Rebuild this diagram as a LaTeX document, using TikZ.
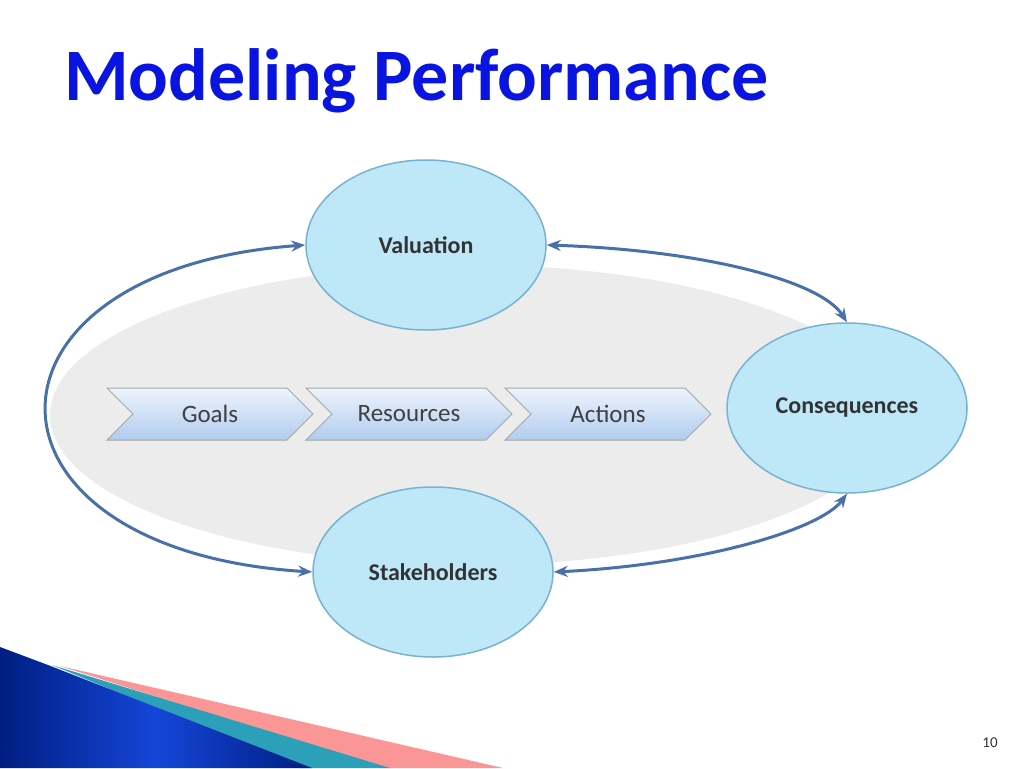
\documentclass[tikz,border=0pt]{standalone}
\usepackage{fontspec}
\setmainfont{Carlito}
\usetikzlibrary{arrows.meta, shapes.symbols, shapes.geometric}
\definecolor{titleblue}{RGB}{10,20,225}
\definecolor{ringfill}{RGB}{190,232,248}
\definecolor{ringdraw}{RGB}{120,178,208}
\definecolor{arcblue}{RGB}{74,112,170}
\definecolor{backgray}{RGB}{236,236,236}
\definecolor{chevtop}{RGB}{238,244,252}
\definecolor{chevbot}{RGB}{176,204,238}
\definecolor{slateblue}{RGB}{20,70,215}
\definecolor{darkslate}{RGB}{0,30,130}
\definecolor{tealband}{RGB}{45,160,185}
\definecolor{pinkband}{RGB}{250,150,150}

\begin{document}
\begin{tikzpicture}[x=1pt, y=-1pt, >={Stealth[length=14pt,width=11pt]}]
\tikzstyle{ring}=[ellipse, draw=ringdraw, line width=1.5pt, fill=ringfill, minimum width=240pt, minimum height=170pt, font=\bfseries\fontsize{24}{28}\selectfont, text=black!80]
\tikzstyle{chevron}=[signal, signal to=east, signal from=west, draw=black!35, line width=1pt, top color=chevtop, bottom color=chevbot, minimum width=206pt, minimum height=52pt, font=\fontsize{25}{30}\selectfont, text=black!75]
\tikzstyle{loop}=[<->, arcblue, line width=3pt]

\useasboundingbox (0,0) rectangle (1024,768);
\fill[white] (0,0) rectangle (1024,768);

% title
\node[anchor=base west, inner sep=0pt, text=titleblue, font=\bfseries\fontsize{74}{80}\selectfont] (title) at (64,100) {Modeling Performance};

% background
\fill[backgray] (470,415) ellipse [x radius=420, y radius=150];

% stages
\node[chevron] (goals) at (210,414) {Goals};
\node[chevron] (resources) at (409,414) {Resources};
\node[chevron] (actions) at (608,414) {Actions};

% rings
\node[ring] (valuation) at (426,245) {Valuation};
\node[ring] (consequences) at (847,408) {Consequences};
\node[ring] (stakeholders) at (433,572) {Stakeholders};

% loops
\draw[loop] (valuation.west) .. controls (-40,270) and (-40,550) .. (stakeholders.west);
\draw[loop] (valuation.east) .. controls (700,250) and (820,280) .. (consequences.north);
\draw[loop] (stakeholders.east) .. controls (700,565) and (820,530) .. (consequences.south);

% footer
\fill[pinkband] (60,666) -- (503,768) -- (380,768) -- cycle;
\fill[tealband] (52,665) -- (390,768) -- (300,768) -- cycle;
\shade[left color=darkslate, right color=darkslate, middle color=slateblue] (0,647) -- (48,665) -- (312,768) -- (0,768) -- cycle;
\node[font=\fontsize{15}{18}\selectfont, text=black!80] (page) at (990,743) {10};
\end{tikzpicture}
\end{document}
